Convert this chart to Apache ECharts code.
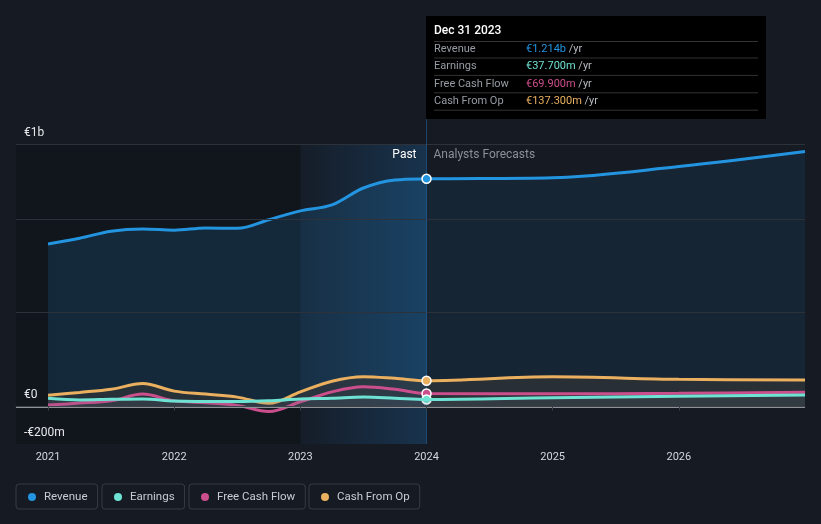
<!DOCTYPE html>
<html>
<head>
<meta charset="utf-8">
<script src="https://cdn.jsdelivr.net/npm/echarts@6/dist/echarts.min.js"></script>
<style>
html,body{margin:0;padding:0;background:#151a23;}
#chart{width:821px;height:524px;}
</style>
</head>
<body>
<div id="chart"></div>
<script>
// ---- data (values in € millions) ----
const periods = [2021, 2021.25, 2021.5, 2021.75, 2022, 2022.25, 2022.5, 2022.75, 2023, 2023.25, 2023.5, 2023.75, 2024, 2025, 2026, 2027];
const revenue = [867, 897, 935, 947, 940, 952, 950, 996, 1043, 1075, 1165, 1208, 1214, 1220, 1280, 1360];
const earnings = [44, 35, 38, 40, 29, 27, 26, 30, 40, 44, 50, 44, 37.7, 47, 54, 61];
const freeCashFlow = [8, 18, 30, 66, 30, 20, 6, -27, 25, 78, 105, 92, 69.9, 68, 70, 76];
const cashFromOp = [60, 75, 92, 122, 82, 66, 50, 17, 78, 135, 159, 150, 137.3, 158, 145, 141];
const yearTicks = [2021, 2022, 2023, 2024, 2025, 2026];
const yTickValues = [-200, 0, 1400];
const yTickLabels = ['-€200m', '€0', '€1b'];
const gridValues = [500, 1000, 1400];
const pastStart = 2023, splitYear = 2024;
const tooltipDate = 'Dec 31 2023';
const seriesNames = ['Revenue', 'Earnings', 'Free Cash Flow', 'Cash From Op'];

const xMin = 2020.746, xMax = 2027, yMin = -200, yMax = 1533, bandTop = 1400;
const COLORS = {rev:'#2394e0', earn:'#6ee3d3', fcf:'#cc4f8d', cfo:'#eab060'};
const FONT = 'Roboto, "Noto Sans", sans-serif';

const pair = arr => periods.map((p, i) => [p, arr[i]]);
const si = periods.indexOf(splitYear);

function fmt(v){
  if (Math.abs(v) >= 1000) return '€' + (v/1000).toFixed(3) + 'b';
  return '€' + v.toFixed(3) + 'm';
}

function marker(color, val){
  return {
    symbol:'circle', symbolSize:9, label:{show:false},
    itemStyle:{color:color, borderColor:'#ffffff', borderWidth:1.5},
    data:[{coord:[splitYear, val]}]
  };
}

function lineSeries(name, arr, color, width, area, z){
  return {
    name:name, type:'line', data:pair(arr), smooth:0.35, symbol:'none', z:z,
    lineStyle:{color:color, width:width}, itemStyle:{color:color},
    areaStyle: area, markPoint: marker(color, arr[si])
  };
}

// ---- tooltip-like panel (static, as in the reference) ----
const tipRows = [
  [seriesNames[0], revenue[si], COLORS.rev],
  [seriesNames[1], earnings[si], COLORS.earn],
  [seriesNames[2], freeCashFlow[si], COLORS.fcf],
  [seriesNames[3], cashFromOp[si], COLORS.cfo]
];
const tipChildren = [
  {type:'rect', shape:{x:0, y:0, width:340, height:103}, style:{fill:'#000000'}},
  {type:'text', x:8, y:15, style:{text:tooltipDate, fill:'#ffffff', font:'500 12px ' + FONT, verticalAlign:'middle'}},
  {type:'line', shape:{x1:8, y1:25.5, x2:332, y2:25.5}, style:{stroke:'#333333', lineWidth:1}}
];
tipRows.forEach((r, i) => {
  const cy = 33 + i * 17.4;
  tipChildren.push({type:'text', x:8, y:cy, style:{text:r[0], fill:'#979ca4', font:'11px ' + FONT, verticalAlign:'middle'}});
  tipChildren.push({type:'text', x:100, y:cy, style:{
    text:'{v|' + fmt(r[1]) + '}{u| /yr}', verticalAlign:'middle', font:'11px ' + FONT,
    rich:{v:{fill:r[2], font:'11px ' + FONT}, u:{fill:'#b8bcc2', font:'11px ' + FONT}}
  }});
  tipChildren.push({type:'line', shape:{x1:8, y1:cy + 9, x2:332, y2:cy + 9}, style:{stroke:'#333333', lineWidth:1}});
});

const chart = echarts.init(document.getElementById('chart'), null, {renderer:'canvas'});

const legendBase = {
  top:484, icon:'circle', itemWidth:8, itemHeight:8, itemGap:0,
  borderColor:'#363b44', borderWidth:1, borderRadius:3,
  padding:[7,10,6,12], selectedMode:false,
  textStyle:{color:'#c8ccd2', fontSize:11.5, fontFamily:FONT, padding:[0,0,0,3]}
};
const legendLefts = [16, 102, 189, 309];

const option = {
  animation:false,
  backgroundColor:'#151a23',
  textStyle:{fontFamily:FONT},
  grid:{left:16, right:16, top:119, bottom:80, containLabel:false},
  legend: seriesNames.map((n, i) => Object.assign({}, legendBase, {left:legendLefts[i], data:[n]})),
  graphic:[{type:'group', left:426, top:16, z:100, children:tipChildren}],
  xAxis:{
    type:'value', min:xMin, max:xMax, z:10,
    axisLine:{show:true, lineStyle:{color:'#3b4049', width:1}},
    axisTick:{show:true, customValues:yearTicks, length:4, lineStyle:{color:'#3b4049'}},
    axisLabel:{customValues:yearTicks, formatter:v => String(Math.round(v)), color:'#d5d8dc', fontSize:11, margin:8, fontFamily:FONT},
    splitLine:{show:false}
  },
  yAxis:{
    type:'value', min:yMin, max:yMax, z:10,
    axisLine:{show:false}, axisTick:{show:false}, splitLine:{show:false},
    axisLabel:{
      inside:true, margin:8, customValues:yTickValues,
      formatter:v => yTickLabels[yTickValues.indexOf(v)] || '',
      color:'#e6e8eb', fontSize:12, verticalAlign:'bottom', padding:[0,0,5,0], fontFamily:FONT
    }
  },
  series:[
    {
      name:'bg', type:'line', data:[], z:0, silent:true,
      markArea:{
        silent:true,
        data:[
          [{xAxis:xMin, yAxis:yMin, itemStyle:{color:'#11151c'}}, {xAxis:pastStart, yAxis:bandTop}],
          [{xAxis:pastStart, yAxis:yMin,
            itemStyle:{color:new echarts.graphic.LinearGradient(0,0,1,0,[{offset:0,color:'rgba(33,130,210,0.03)'},{offset:1,color:'rgba(33,130,210,0.24)'}])},
            label:{show:true, position:'insideTopRight', formatter:'Past', color:'#ffffff', fontSize:12, distance:5, padding:[0,5,0,0], fontFamily:FONT}},
           {xAxis:splitYear, yAxis:bandTop}],
          [{xAxis:splitYear, yAxis:yMin, itemStyle:{color:'rgba(0,0,0,0)'},
            label:{show:true, position:'insideTopLeft', formatter:'Analysts Forecasts', color:'#8b9098', fontSize:12, distance:5, padding:[0,0,0,2], fontFamily:FONT}},
           {xAxis:xMax, yAxis:bandTop}]
        ]
      },
      markLine:{
        silent:true, symbol:'none', label:{show:false},
        data: gridValues.map(v => ({yAxis:v, lineStyle:{color:'#2d323a', width:1, type:'solid'}}))
          .concat([{yAxis:0, lineStyle:{color:'#8e9196', width:2, type:'solid'}},
                   {xAxis:splitYear, lineStyle:{color:'rgba(40,115,185,0.45)', width:1, type:'solid'}}])
      }
    },
    lineSeries(seriesNames[0], revenue, COLORS.rev, 3,
      {color:new echarts.graphic.LinearGradient(0,0,1,0,[
        {offset:0,color:'rgba(35,148,224,0.22)'},{offset:0.5,color:'rgba(35,148,224,0.22)'},
        {offset:0.5,color:'rgba(35,148,224,0.13)'},{offset:1,color:'rgba(35,148,224,0.13)'}])}, 2),
    lineSeries(seriesNames[3], cashFromOp, COLORS.cfo, 3, {color:'rgba(55,55,56,0.8)'}, 3),
    lineSeries(seriesNames[2], freeCashFlow, COLORS.fcf, 3, {color:'rgba(80,80,80,0.15)'}, 4),
    lineSeries(seriesNames[1], earnings, COLORS.earn, 3, {color:'rgba(100,115,135,0.2)'}, 5)
  ]
};

chart.setOption(option);
</script>
</body>
</html>
